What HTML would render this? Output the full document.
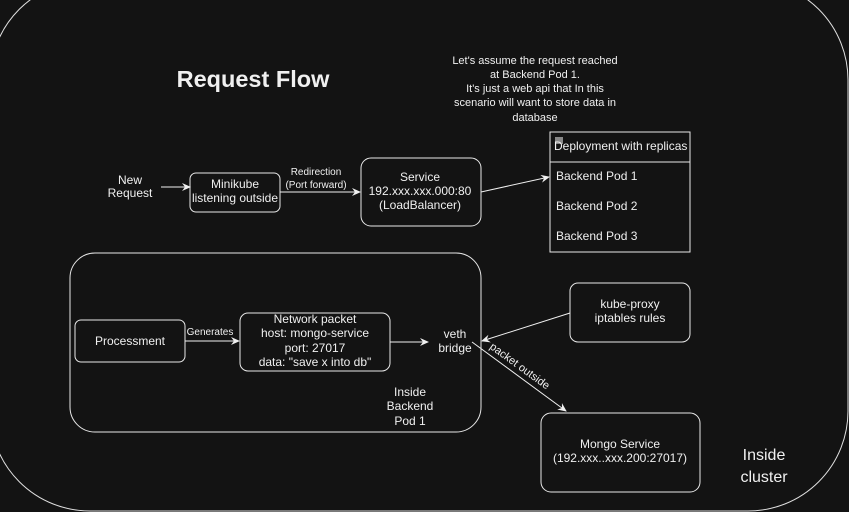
<!DOCTYPE html>
<html><head><meta charset="utf-8"><style>
html,body{margin:0;padding:0;background:#131313;}
svg{display:block;font-family:"Liberation Sans",sans-serif;}
</style></head><body>
<svg width="849" height="512" viewBox="0 0 849 512" xmlns="http://www.w3.org/2000/svg">
<defs><marker id="a" markerWidth="10" markerHeight="10" refX="8" refY="5" orient="auto" markerUnits="userSpaceOnUse"><path d="M0,1 L9,5 L0,9 L3,5 Z" fill="#f0f0f0"/></marker></defs>
<rect x="0" y="0" width="849" height="512" fill="#131313"/>
<rect x="-10" y="-20" width="858" height="531" rx="100" ry="100" fill="#131313" stroke="#e0e0e0" stroke-width="1"/>
<g fill="#f0f0f0" text-anchor="middle">
<text x="253" y="87" font-size="23.5" font-weight="bold">Request Flow</text>
<g font-size="11"><text x="535" y="64">Let's assume the request reached</text><text x="535" y="78">at Backend Pod 1.</text><text x="535" y="92">It's just a web api that In this</text><text x="535" y="106">scenario will want to store data in</text><text x="535" y="121">database</text></g>
<g font-size="12"><text x="130" y="184">New</text><text x="130" y="197">Request</text></g>
</g>
<g fill="none" stroke="#e8e8e8" stroke-width="1">
<rect x="190" y="173" width="90" height="39" rx="6"/>
<rect x="361" y="158" width="120" height="68" rx="10"/>
<rect x="550" y="132" width="140" height="120"/>
<line x1="550" y1="162" x2="690" y2="162"/>
<rect x="70" y="253" width="411" height="179" rx="25"/>
<rect x="75" y="320" width="110" height="42" rx="6"/>
<rect x="240" y="313" width="150" height="58" rx="8"/>
<rect x="570" y="283" width="120" height="59" rx="8"/>
<rect x="541" y="413" width="159" height="79" rx="10"/>
</g>
<rect x="555" y="137" width="8" height="7" fill="#888"/>
<g stroke="#f0f0f0" stroke-width="1" fill="none" marker-end="url(#a)">
<line x1="161" y1="187" x2="190" y2="187"/>
<line x1="280" y1="192" x2="360" y2="192"/>
<line x1="481" y1="192" x2="549" y2="177"/>
<line x1="185" y1="341" x2="239" y2="341"/>
<line x1="390" y1="342" x2="428" y2="342"/>
<line x1="570" y1="313" x2="482" y2="341"/>
<line x1="472" y1="342" x2="566" y2="411"/>
</g>
<g fill="#f0f0f0" text-anchor="middle" font-size="12">
<text x="235" y="188">Minikube</text><text x="235" y="202">listening outside</text>
<text x="420" y="181">Service</text><text x="420" y="195">192.xxx.xxx.000:80</text><text x="420" y="209">(LoadBalancer)</text>
<text x="130" y="345">Processment</text>
<text x="315" y="323">Network packet</text><text x="315" y="337">host: mongo-service</text><text x="315" y="352">port: 27017</text><text x="315" y="366">data: "save x into db"</text>
<text x="455" y="338">veth</text><text x="455" y="352">bridge</text>
<text x="410" y="396">Inside</text><text x="410" y="410">Backend</text><text x="410" y="425">Pod 1</text>
<text x="630" y="308">kube-proxy</text><text x="630" y="322">iptables rules</text>
<text x="620" y="448">Mongo Service</text><text x="620" y="462">(192.xxx..xxx.200:27017)</text>
<text x="764" y="460" font-size="16">Inside</text><text x="764" y="482" font-size="16">cluster</text>
<text x="316" y="175" font-size="10">Redirection</text><text x="316" y="188" font-size="10">(Port forward)</text>
<text x="210" y="335" font-size="10">Generates</text>
</g>
<g fill="#f0f0f0" font-size="12">
<text x="554" y="150">Deployment with replicas</text>
<text x="556" y="180">Backend Pod 1</text>
<text x="556" y="210">Backend Pod 2</text>
<text x="556" y="240">Backend Pod 3</text>
<text x="0" y="0" font-size="11" transform="translate(489,348) rotate(36)">packet outside</text>
</g>
</svg>
</body></html>
